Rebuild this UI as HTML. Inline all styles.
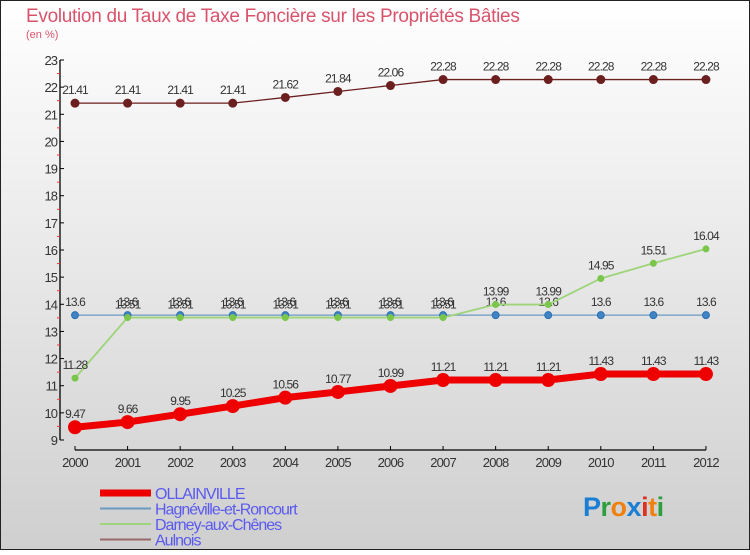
<!DOCTYPE html>
<html><head><meta charset="utf-8"><style>
body{margin:0;width:750px;height:550px;overflow:hidden;font-family:"Liberation Sans",sans-serif}
svg text{font-family:"Liberation Sans",sans-serif}
</style></head><body>
<svg id="c" width="750" height="550" xmlns="http://www.w3.org/2000/svg">
<defs><linearGradient id="bg" x1="0" y1="0" x2="0" y2="1"><stop offset="0" stop-color="#ffffff"/><stop offset="1" stop-color="#cfcfcf"/></linearGradient></defs>
<rect x="0.5" y="0.5" width="749" height="549" fill="url(#bg)" stroke="#222"/>
<text x="26" y="22" font-size="19" fill="#d9536b" letter-spacing="-0.3">Evolution du Taux de Taxe Foncière sur les Propriétés Bâties</text>
<text x="26" y="38" font-size="11" fill="#d9536b">(en %)</text>
<g id="axes"></g><g id="series"></g><g id="legend"></g>
<text x="583" y="516" font-size="27" font-weight="bold" letter-spacing="-0.5"><tspan fill="#1a7fd4">P</tspan><tspan fill="#2e9e3e">r</tspan><tspan fill="#f08010">o</tspan><tspan fill="#1a7fd4">x</tspan><tspan fill="#e03020">i</tspan><tspan fill="#f08010">t</tspan><tspan fill="#2e9e3e">i</tspan></text>
</svg>
<script>
const years=[2000,2001,2002,2003,2004,2005,2006,2007,2008,2009,2010,2011,2012];
const yTicks=[9,10,11,12,13,14,15,16,17,18,19,20,21,22,23];
const ollainville=[9.47,9.66,9.95,10.25,10.56,10.77,10.99,11.21,11.21,11.21,11.43,11.43,11.43];
const hagneville=[13.6,13.6,13.6,13.6,13.6,13.6,13.6,13.6,13.6,13.6,13.6,13.6,13.6];
const darney=[11.28,13.51,13.51,13.51,13.51,13.51,13.51,13.51,13.99,13.99,14.95,15.51,16.04];
const aulnois=[21.41,21.41,21.41,21.41,21.62,21.84,22.06,22.28,22.28,22.28,22.28,22.28,22.28];
const seriesNames=["OLLAINVILLE","Hagnéville-et-Roncourt","Darney-aux-Chênes","Aulnois"];
const NS="http://www.w3.org/2000/svg";
const X=i=>75+i*52.58, Y=v=>440-(v-9)*(380/14);
function mk(tag,attrs,parent,txt){const e=document.createElementNS(NS,tag);for(const k in attrs)e.setAttribute(k,attrs[k]);if(txt!==undefined)e.textContent=txt;parent.appendChild(e);return e;}
const ax=document.getElementById('axes');
let e=mk('line',{x1:60,y1:60,x2:60,y2:440,stroke:'#000','stroke-width':1.3},ax);

e=mk('line',{x1:75,y1:450,x2:X(12),y2:450,stroke:'#000','stroke-width':1.3},ax);

yTicks.forEach(v=>{mk('line',{x1:60,y1:Y(v),x2:64,y2:Y(v),stroke:'#000'},ax);
 if(v<23)mk('line',{x1:57,y1:Y(v+0.5),x2:60,y2:Y(v+0.5),stroke:'#f33'},ax);
 e=mk('text',{x:57,y:Y(v)+5,'font-size':13,fill:'#333','text-anchor':'end','letter-spacing':'-1'},ax,String(v));
 });
years.forEach((y,i)=>{mk('line',{x1:X(i),y1:446,x2:X(i),y2:450,stroke:'#000'},ax);
 e=mk('text',{x:X(i),y:467,'font-size':13,fill:'#333','text-anchor':'middle','letter-spacing':'-0.8'},ax,String(y));
 });
const sg=document.getElementById('series');
const defs=[[aulnois,'#6b1f1f','#6b1f1f',1.3,4.5,'aulnois'],[hagneville,'#6a9ac0','#3f84c4',1.3,3.5,'hagneville'],[darney,'#9ed47a','#79c64a',1.8,3.5,'darney'],[ollainville,'#ee0000','#ee0000',7,7,'ollainville']];
defs.forEach(([d,lc,pc,w,r,n])=>{
 const g=mk('g',{},sg);
 e=mk('polyline',{points:d.map((v,i)=>X(i)+','+Y(v)).join(' '),fill:'none',stroke:lc,'stroke-width':w},g);
 
 d.forEach((v,i)=>{e=mk('circle',{cx:X(i),cy:Y(v),r:r,fill:pc,stroke:n==='hagneville'?'#2c6fae':'none'},g);
  
  e=mk('text',{x:X(i),y:Y(v)-9,'font-size':12,fill:'#333','text-anchor':'middle','letter-spacing':'-0.9'},g,String(v));
  });
});
const lg=document.getElementById('legend');
const lcol=['#ee0000','#6a9ac0','#9ed47a','#9a6a6a'],lw=[7,2,2,2];
seriesNames.forEach((s,i)=>{const y=493+i*15.5;
 const g=mk('g',{},lg);
 mk('line',{x1:100,y1:y,x2:151,y2:y,stroke:lcol[i],'stroke-width':lw[i]},g);
 mk('text',{x:155,y:y+6,'font-size':16,fill:'#5a5af0','letter-spacing':'-1'},g,s);});
</script>
</body></html>
